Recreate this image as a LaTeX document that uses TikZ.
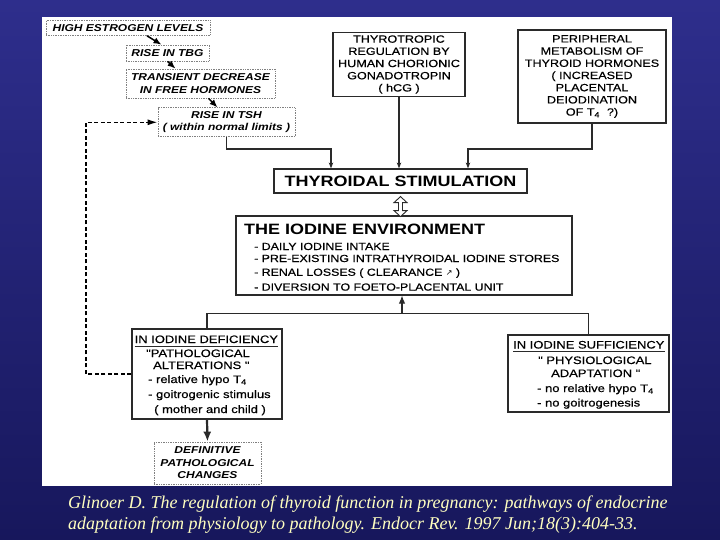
\documentclass[tikz,border=0pt]{standalone}
\usepackage{fontspec}
\newfontfamily\dg[FakeStretch=1.2]{Liberation Sans}
\newfontfamily\dgm[FakeStretch=1.2,FakeBold=0.5]{Liberation Sans}
\newfontfamily\capf{Liberation Serif}
\newfontfamily\symf{DejaVu Sans}
\usetikzlibrary{arrows.meta,calc}
\definecolor{bgtop}{HTML}{2E2E8C}
\definecolor{bgbot}{HTML}{17175C}
\definecolor{capcol}{HTML}{FFFFC0}
\definecolor{ln}{HTML}{2A2A2A}
\tikzset{
  solidbox/.style={draw=ln, line width=1.2pt, fill=white, inner sep=0pt, align=center,
    font=\dgm\fontsize{10.5}{12.2}\selectfont},
  dotbox/.style={draw=gray, line width=0.7pt, dash pattern=on 0.8pt off 0.9pt, inner sep=0pt,
    align=center, font=\dg\bfseries\itshape\fontsize{10}{12.4}\selectfont},
  conn/.style={draw=ln, line width=1.1pt},
  diagarrow/.style={draw=black, line width=1.5pt, -{Latex[length=8pt,width=6.5pt]}},
  smalltip/.style={-{Stealth[length=6pt,width=4.5pt]}},
  txt/.style={inner sep=0pt, anchor=base west, font=\dgm\fontsize{10.8}{13}\selectfont},
  itemtxt/.style={inner sep=0pt, anchor=base west, font=\dgm\fontsize{10.3}{12}\selectfont},
  captxt/.style={inner sep=0pt, anchor=base west, text=capcol, font=\capf\itshape\fontsize{18}{18}\selectfont}
}
\begin{document}
\begin{tikzpicture}[x=1pt,y=-1pt]
\useasboundingbox (0,0) rectangle (720,540);
\shade[top color=bgtop, bottom color=bgbot] (0,0) rectangle (720,540);
\fill[white] (42,17.5) rectangle (672,486);

% left chain of dotted boxes
\node[dotbox, minimum width=164, minimum height=15] (hel) at (128,28) {HIGH ESTROGEN LEVELS};
\node[dotbox, minimum width=83, minimum height=16] (tbg) at (167.5,53) {RISE IN TBG};
\node[dotbox, minimum width=149, minimum height=29] (tdec) at (200.5,83.5) {TRANSIENT DECREASE\\IN FREE HORMONES};
\node[dotbox, minimum width=137, minimum height=29] (tsh) at (226.5,122.3) {RISE IN TSH\\( within normal limits )};

% top solid boxes
\node[solidbox, minimum width=132, minimum height=64] (thyr) at (399,64.5)
  {THYROTROPIC\\REGULATION BY\\HUMAN CHORIONIC\\GONADOTROPIN\\( hCG )};
\node[solidbox, minimum width=148, minimum height=93] (peri) at (592,76.5)
  {PERIPHERAL\\METABOLISM OF\\THYROID HORMONES\\( INCREASED\\PLACENTAL\\DEIODINATION\\OF T\textsubscript{4} \ ?)};

\node[solidbox, minimum width=253, minimum height=24, font=\dg\bfseries\fontsize{15}{15}\selectfont] (tstim) at (400.5,181) {THYROIDAL STIMULATION};

% iodine environment
\node[solidbox, minimum width=336, minimum height=79] (iodine) at (404,255.5) {};
\node[txt, font=\dg\bfseries\fontsize{15}{15}\selectfont] (iot) at (244,234) {THE IODINE ENVIRONMENT};
\node[itemtxt] (io1) at (254,250) {- DAILY IODINE INTAKE};
\node[itemtxt] (io2) at (254,262) {- PRE-EXISTING INTRATHYROIDAL IODINE STORES};
\node[itemtxt] (io3) at (254,275.8) {- RENAL LOSSES ( CLEARANCE {\symf\fontsize{8}{8}\selectfont\char"2197} )};
\node[itemtxt] (io4) at (254,290.6) {- DIVERSION TO FOETO-PLACENTAL UNIT};

% deficiency
\node[solidbox, minimum width=150, minimum height=90] (defic) at (207,374) {};
\node[txt] (dh) at (134.5,343) {IN IODINE DEFICIENCY};
\draw[line width=0.6pt, draw=ln] ([yshift=-2.8pt]dh.base west) -- ([yshift=-2.8pt]dh.base east);
\node[txt] (d1) at (146,357) {"PATHOLOGICAL};
\node[txt] (d2) at (153,369) {ALTERATIONS "};
\node[txt] (d3) at (148,383) {- relative hypo T\textsubscript{4}};
\node[txt] (d4) at (148,398) {- goitrogenic stimulus};
\node[txt] (d5) at (154,413) {( mother and child )};

% sufficiency
\node[solidbox, minimum width=161, minimum height=77] (suffic) at (588.5,373.5) {};
\node[txt] (sh) at (513,348.5) {IN IODINE SUFFICIENCY};
\draw[line width=0.6pt, draw=ln] ([yshift=-2.8pt]sh.base west) -- ([yshift=-2.8pt]sh.base east);
\node[txt] (s1) at (538,364) {" PHYSIOLOGICAL};
\node[txt] (s2) at (551,377) {ADAPTATION "};
\node[txt] (s3) at (537,392) {- no relative hypo T\textsubscript{4}};
\node[txt] (s4) at (537,406.5) {- no goitrogenesis};

% definitive
\node[dotbox, minimum width=107, minimum height=42] (defin) at (207.5,463) {DEFINITIVE\\PATHOLOGICAL\\CHANGES};

% junction coordinates
\coordinate (j1) at (331,149);
\coordinate (j2) at (468,149);
\coordinate (j3) at (402,313.5);
\coordinate (j4) at (86,0);

% connectors
\draw[diagarrow] ([xshift=19pt]hel.south) -- ([xshift=-6pt]tbg.north);
\draw[diagarrow] (tbg.south) -- ([xshift=-25pt]tdec.north);
\draw[diagarrow] ([xshift=8pt]tdec.south) -- ([xshift=-9pt]tsh.north);

\draw[conn, smalltip] (tsh.south) |- (j1) -- (j1 |- tstim.north);
\draw[conn, smalltip] (thyr.south) -- (thyr.south |- tstim.north);
\draw[conn, smalltip] (peri.south) |- (j2) -- (j2 |- tstim.north);

% hollow double arrow between stimulation and iodine environment
\draw[draw=ln, line width=0.9pt, fill=white, shift={(tstim.south)}]
  (-2,9) -- (-6.5,9) -- (0,3) -- (6.5,9) -- (2,9) -- (2,17) -- (6.5,17) -- (0,23) -- (-6.5,17) -- (-2,17) -- cycle;

\draw[conn, -{Latex[length=8pt,width=6.5pt]}] (j3) -- (j3 |- iodine.south);
\draw[conn] (defic.north) |- (j3) -| (suffic.north);
\draw[draw=ln, line width=2.2pt, -{Latex[length=10pt,width=8pt]}] (defic.south) -- (defin.north);
\draw[line width=1.5pt, dash pattern=on 4pt off 2.5pt, -{Latex[length=10pt,width=6pt]}]
  (defic.west) -- (defic.west -| j4) -- (j4 |- tsh.west) -- (tsh.west);

% caption
\node[captxt] (cap1) at (68,508) {Glinoer D. The regulation of thyroid function in pregnancy: pathways of endocrine};
\node[captxt] (cap2) at (68,529.5) {adaptation from physiology to pathology. Endocr Rev. 1997 Jun;18(3):404-33.};
\end{tikzpicture}
\end{document}
